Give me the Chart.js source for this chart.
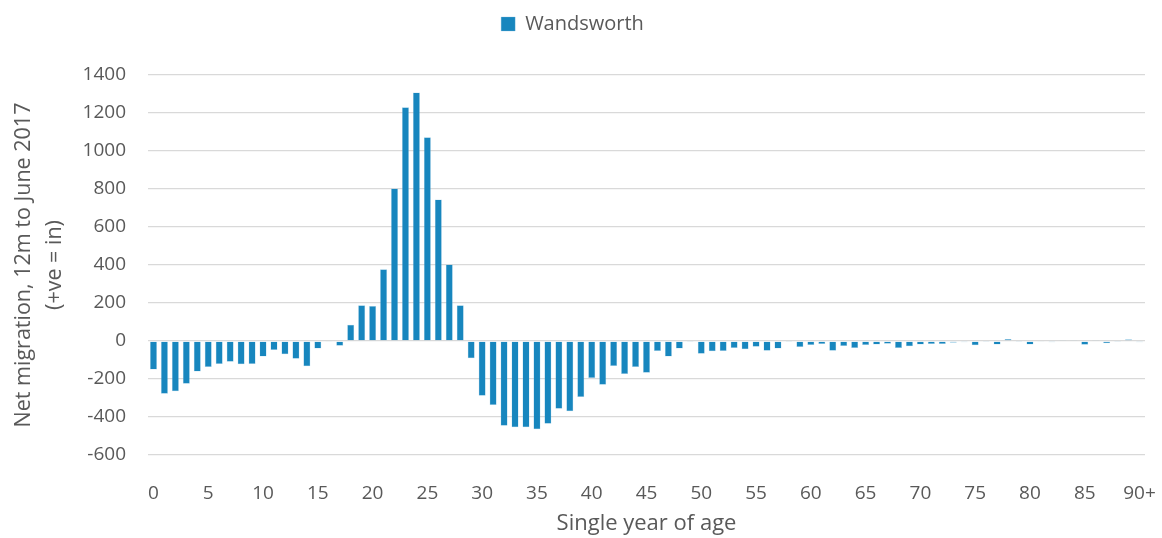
<!DOCTYPE html>
<html>
<head>
<meta charset="utf-8">
<script src="https://cdn.jsdelivr.net/npm/chart.js@4/dist/chart.umd.min.js"></script>
<style>
  html, body { margin: 0; padding: 0; background: #fff; }
  #chart { display: block; }
</style>
</head>
<body>
<canvas id="chart" width="1162" height="538"></canvas>
<script>
// Ages 0..89 plus "90+"
const ages = [];
for (let a = 0; a < 90; a++) ages.push(String(a));
ages.push('90+');

// Net migration by single year of age
const netMigration = [
  -150, -278, -265, -225, -160, -137, -121, -109, -123, -121,
  -81, -47, -70, -93, -133, -40, -5, -25, 86, 188,
  184, 377, 802, 1230, 1308, 1073, 745, 403, 188, -91,
  -288, -337, -446, -454, -454, -465, -435, -356, -370, -295,
  -195, -230, -132, -174, -137, -167, -53, -82, -40, -3,
  -67, -54, -53, -37, -44, -30, -51, -39, -2, -32,
  -21, -16, -51, -26, -37, -21, -19, -14, -37, -28,
  -18, -16, -16, -9, -7, -23, -3, -18, 10, -2,
  -19, -5, -6, 5, 5, -20, 5, -12, -3, 9,
  -6
];

const yTicks = [-600, -400, -200, 0, 200, 400, 600, 800, 1000, 1200, 1400];

const textColor = '#595959';
const fontFamily = '"Open Sans", sans-serif';

// push the plot area down below the legend
const legendGap = {
  id: 'legendGap',
  beforeInit(chart) {
    if (!chart.legend) return;
    const origFit = chart.legend.fit;
    chart.legend.fit = function () {
      origFit.call(this);
      this.height += 31;
    };
  }
};

new Chart(document.getElementById('chart'), {
  type: 'bar',
  data: {
    labels: ages,
    datasets: [{
      label: 'Wandsworth',
      data: netMigration,
      backgroundColor: '#1786be',
      borderColor: 'rgba(120,185,220,0.6)',
      borderWidth: 0.5,
      barPercentage: 0.64,
      categoryPercentage: 1
    }]
  },
  plugins: [legendGap],
  options: {
    responsive: false,
    animation: false,
    layout: { padding: { top: 2, right: 17, left: 0, bottom: 0 } },
    plugins: {
      tooltip: { enabled: false },
      legend: {
        position: 'top',
        labels: {
          color: textColor,
          font: { family: fontFamily, size: 20 },
          boxWidth: 14,
          boxHeight: 14,
          padding: 12
        }
      }
    },
    scales: {
      x: {
        afterFit: axis => {
          axis.height = 83;
          axis.paddingRight = 0;
          axis.paddingLeft = 0;
        },
        grid: { display: false },
        border: { display: false },
        ticks: {
          color: textColor,
          font: { family: fontFamily, size: 19 },
          autoSkip: false,
          maxRotation: 0,
          padding: 19,
          callback: function (val, idx) {
            return idx % 5 === 0 ? this.getLabelForValue(val) : '';
          }
        },
        title: {
          display: true,
          text: 'Single year of age',
          color: textColor,
          font: { family: fontFamily, size: 22 },
          padding: { top: 1, bottom: 1 }
        }
      },
      y: {
        min: yTicks[0],
        max: yTicks[yTicks.length - 1],
        afterFit: axis => { axis.width = 148; },
        afterBuildTicks: axis => { axis.ticks = yTicks.map(v => ({ value: v })); },
        grid: { color: '#d9d9d9', lineWidth: 1.3, drawTicks: false },
        border: { display: false },
        ticks: {
          color: textColor,
          font: { family: fontFamily, size: 19 },
          padding: 22,
          callback: v => String(v)
        },
        title: {
          display: true,
          text: ['Net migration, 12m to June 2017', '(+ve = in)'],
          color: textColor,
          font: { family: fontFamily, size: 21.5, lineHeight: 1.45 },
          padding: { top: 8, bottom: 6 }
        }
      }
    }
  }
});
</script>
</body>
</html>
